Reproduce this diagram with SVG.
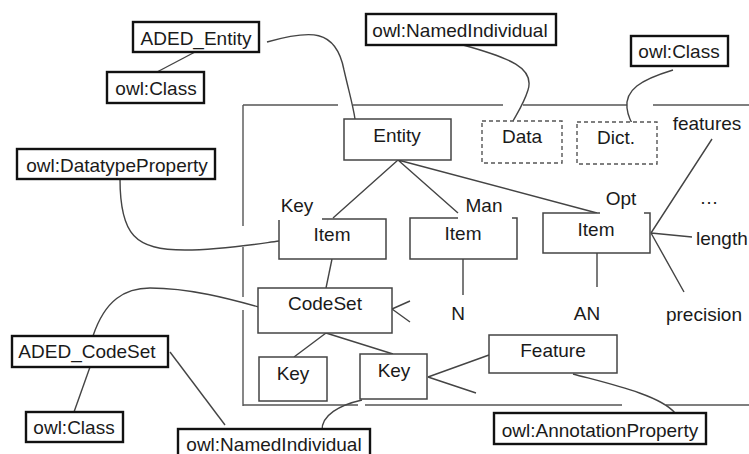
<svg xmlns="http://www.w3.org/2000/svg" width="749" height="454" viewBox="0 0 749 454">
<style>
text{font-family:"Liberation Sans",Arial,sans-serif;font-size:19px;fill:#1a1a1a}
.c{text-anchor:middle}
.n{fill:#fff;stroke:#444;stroke-width:1.5}
.l{fill:#fff;stroke:#111;stroke-width:2.4}
.d{fill:#fff;stroke:#555;stroke-width:1.4;stroke-dasharray:4 3}
.e{fill:none;stroke:#444;stroke-width:1.4}
.f{fill:none;stroke:#555;stroke-width:1.4}
</style>
<rect width="749" height="454" fill="#fff"/>
<g id="frame">
<path class="f" d="M243,105H338M353,105H503M523,105H627M653,105H749M243,105V226M243,247V297M243,310V406M243,405H358M365,405H622M666,405H749"/>
</g>
<g id="connectors">
<path class="e" d="M195,52L157,72"/>
<path class="e" d="M267,42C310,30 336,28 344,70C349,92 353,105 355,119"/>
<path class="e" d="M120,179C120,235 135,250 185,250C220,250 250,245 279,241"/>
<path class="e" d="M398,160L333,218M398,160L458,213M398,160L597,213"/>
<path class="e" d="M332,259L326,288"/>
<path class="e" d="M463,258V295M597,253V287"/>
<path class="e" d="M651,233L712,139M651,233L692,237M651,233L684,292"/>
<path class="e" d="M392,309L410,301M392,309L410,322"/>
<path class="e" d="M326,333L294,357M326,333L393,354"/>
<path class="e" d="M428,377L489,355M428,377L476,393"/>
<path class="e" d="M573,374C610,384 660,395 675,413"/>
<path class="e" d="M463,45C510,58 535,68 528,90C524,103 518,112 513,121"/>
<path class="e" d="M673,70C640,80 625,90 627,108C628,118 633,126 637,132"/>
<path class="e" d="M93,336C105,300 125,288 150,288C190,288 230,299 259,307"/>
<path class="e" d="M90,367L74,412"/>
<path class="e" d="M170,352L225,425"/>
<path class="e" d="M362,400C340,405 321,415 322,431"/>
</g>
<g id="aded-entity"><rect class="l" x="133" y="22" width="126" height="30"/><text class="c" x="196" y="45">ADED_Entity</text></g>
<g id="owl-class-1"><rect class="l" x="107" y="72" width="97" height="31"/><text class="c" x="156" y="95">owl:Class</text></g>
<g id="owl-datatype-property"><rect class="l" x="17" y="149" width="198" height="30"/><text class="c" x="117" y="172">owl:DatatypeProperty</text></g>
<g id="owl-named-individual-1"><rect class="l" x="366" y="14" width="190" height="31"/><text class="c" x="460" y="37">owl:NamedIndividual</text></g>
<g id="owl-class-2"><rect class="l" x="631" y="36" width="97" height="30"/><text class="c" x="679" y="58">owl:Class</text></g>
<g id="entity"><rect class="n" x="344" y="119" width="107" height="41"/><text class="c" x="397" y="142">Entity</text></g>
<g id="data"><rect class="d" x="482" y="121" width="80" height="42"/><text class="c" x="522" y="143">Data</text></g>
<g id="dict"><rect class="d" x="577" y="122" width="80" height="42"/><text class="c" x="616" y="144">Dict.</text></g>
<g id="key-item"><path class="n" d="M279,220V259H386V219H322"/><text class="c" x="332" y="241">Item</text><text class="c" x="297" y="212">Key</text></g>
<g id="man-item"><path class="n" d="M458,218H410V259H517V218H512"/><text class="c" x="463" y="240">Item</text><text class="c" x="484" y="212">Man</text></g>
<g id="opt-item"><path class="n" d="M600,213H543V253H650V213H644"/><text class="c" x="596" y="236">Item</text><text class="c" x="621" y="205">Opt</text></g>
<g id="features"><text class="c" x="707" y="130">features</text></g>
<g id="ellipsis"><text class="c" x="709" y="204">…</text></g>
<g id="length"><text x="696" y="245">length</text></g>
<g id="precision"><text class="c" x="704" y="321">precision</text></g>
<g id="n"><text class="c" x="458" y="320">N</text></g>
<g id="an"><text class="c" x="587" y="320">AN</text></g>
<g id="codeset"><rect class="n" x="258" y="288" width="134" height="45"/><text class="c" x="325" y="310">CodeSet</text></g>
<g id="key-1"><rect class="n" x="259" y="357" width="68" height="44"/><text class="c" x="293" y="380">Key</text></g>
<g id="key-2"><rect class="n" x="360" y="354" width="67" height="45"/><text class="c" x="394" y="377">Key</text></g>
<g id="feature"><rect class="n" x="489" y="335" width="128" height="38"/><text class="c" x="553" y="357">Feature</text></g>
<g id="aded-codeset"><rect class="l" x="12" y="336" width="156" height="31"/><text class="c" x="87" y="358">ADED_CodeSet</text></g>
<g id="owl-class-3"><rect class="l" x="26" y="412" width="97" height="30"/><text class="c" x="74" y="434">owl:Class</text></g>
<g id="owl-named-individual-2"><rect class="l" x="178" y="429" width="192" height="32"/><text class="c" x="274" y="451">owl:NamedIndividual</text></g>
<g id="owl-annotation-property"><rect class="l" x="494" y="413" width="212" height="31"/><text class="c" x="600" y="437">owl:AnnotationProperty</text></g>
</svg>
